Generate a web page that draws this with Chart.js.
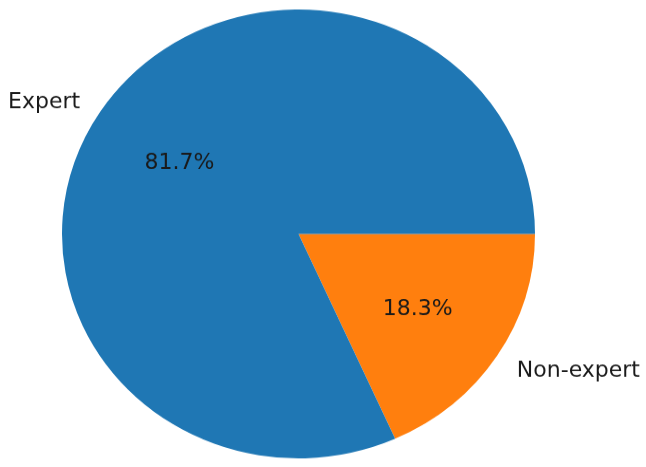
<!DOCTYPE html>
<html>
<head>
<meta charset="utf-8">
<script src="https://cdn.jsdelivr.net/npm/chart.js@4"></script>
<style>
  html, body { margin: 0; padding: 0; overflow: hidden; background: #fff; }
  #wrap {
    position: absolute; left: 0; top: 0;
    width: 646px; height: 492px;
    transform: scaleY(0.949);
    transform-origin: 0 0;
  }
</style>
</head>
<body>
<div id="wrap"><canvas id="pie"></canvas></div>
<script>
// drawn clockwise from 3 o'clock, so Non-expert comes first
const labels = ["Non-expert", "Expert"];
const shares = [18.3, 81.7];
const colors = ["#ff7f0e", "#1f77b4"];

const squash = 0.949;
const font = '22px "DejaVu Sans"';

function putText(ctx, text, x, y, align) {
  ctx.save();
  ctx.translate(x, y + 2.6);
  ctx.scale(1, 1 / squash);
  ctx.textAlign = align;
  ctx.textBaseline = "middle";
  ctx.fillText(text, 0, 0);
  ctx.restore();
}

const pieText = {
  id: "pieText",
  afterDraw(chart) {
    const ctx = chart.ctx;
    ctx.font = font;
    ctx.fillStyle = "#1a1a1a";
    chart.getDatasetMeta(0).data.forEach((arc, i) => {
      const mid = (arc.startAngle + arc.endAngle) / 2;
      const r = arc.outerRadius;
      const c = Math.cos(mid), s = Math.sin(mid);
      putText(ctx, shares[i].toFixed(1) + "%", arc.x + c * r * 0.6, arc.y + s * r * 0.6, "center");
      putText(ctx, labels[i], arc.x + c * r * 1.1, arc.y + s * r * 1.1, c < 0 ? "right" : "left");
    });
  }
};

new Chart(document.getElementById("pie"), {
  type: "pie",
  data: {
    labels: labels,
    datasets: [{
      data: shares,
      backgroundColor: colors,
      borderWidth: 0
    }]
  },
  options: {
    responsive: true,
    maintainAspectRatio: false,
    animation: false,
    rotation: 90,
    layout: { padding: { left: 62, right: 111, top: 10, bottom: 9 } },
    plugins: {
      legend: { display: false },
      tooltip: { enabled: false }
    }
  },
  plugins: [pieText]
});
</script>
</body>
</html>
